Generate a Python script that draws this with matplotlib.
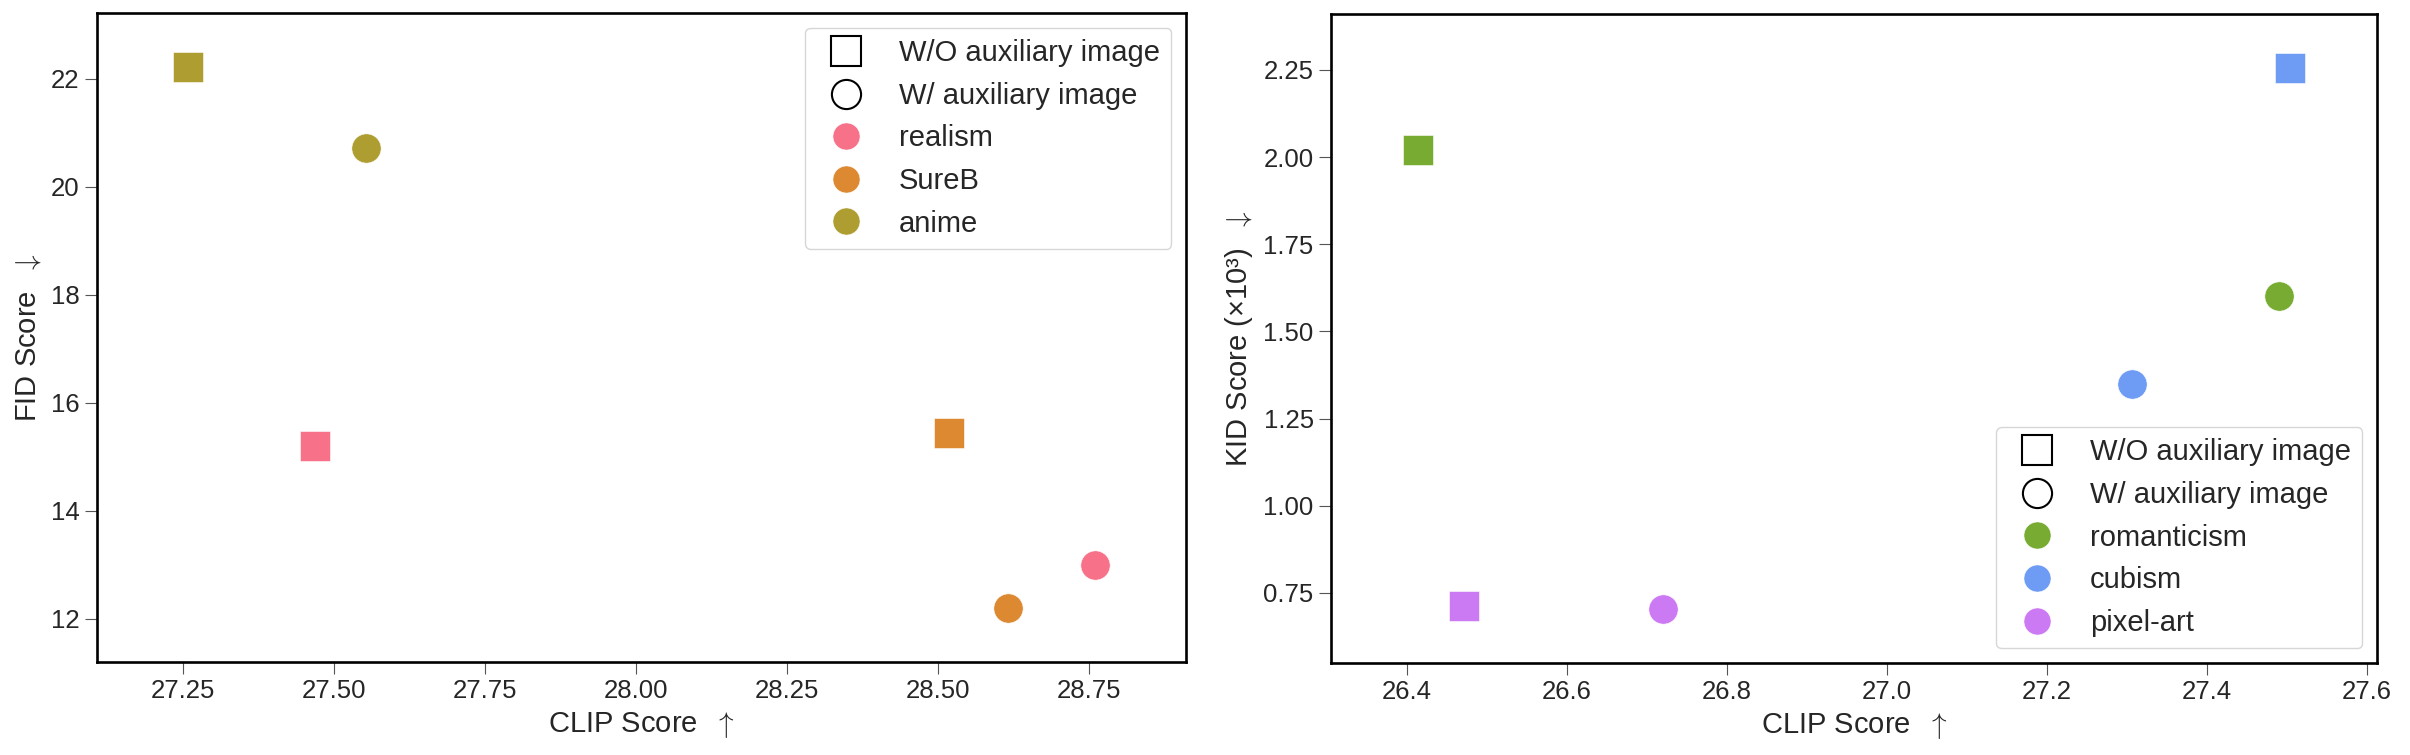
import matplotlib
matplotlib.use('Agg')
import matplotlib.pyplot as plt
from matplotlib.lines import Line2D

# Data: left panel (FID vs CLIP)
left_styles = ['realism', 'SureB', 'anime']
left_colors = ['#f77189', '#dc8932', '#ae9d31']
left_wo_clip = [27.469, 28.518, 27.258]
left_wo_fid = [15.20, 15.44, 22.22]
left_w_clip = [28.760, 28.616, 27.553]
left_w_fid = [13.00, 12.20, 20.72]

# Data: right panel (KID vs CLIP)
right_styles = ['romanticism', 'cubism', 'pixel-art']
right_colors = ['#77ab31', '#6e9bf4', '#cc7af4']
right_wo_clip = [26.414, 27.504, 26.471]
right_wo_kid = [2.020, 2.255, 0.713]
right_w_clip = [27.491, 27.307, 26.720]
right_w_kid = [1.601, 1.349, 0.704]

plt.rcParams['font.family'] = ['Liberation Sans', 'DejaVu Sans']
plt.rcParams['font.size'] = 21
plt.rcParams['text.color'] = '#262626'
plt.rcParams['axes.labelcolor'] = '#262626'
plt.rcParams['xtick.color'] = '#262626'
plt.rcParams['ytick.color'] = '#262626'

fig = plt.figure(figsize=(24.1, 7.55), dpi=100)
ax1 = fig.add_axes([97 / 2410, 93 / 755, 1089 / 2410, 649 / 755])
ax2 = fig.add_axes([1331 / 2410, 92 / 755, 1046 / 2410, 649 / 755])

marker_s = 445


def draw_panel(ax, styles, colors, wo_x, wo_y, w_x, w_y, ylabel, legend_loc):
    for i in range(len(styles)):
        ax.scatter(wo_x[i], wo_y[i], marker='s', s=marker_s, color=colors[i],
                   edgecolors='white', linewidths=0.4, zorder=3)
        ax.scatter(w_x[i], w_y[i], marker='o', s=marker_s, color=colors[i],
                   edgecolors='white', linewidths=0.4, zorder=3)
    ax.margins(0.1)
    for sp in ax.spines.values():
        sp.set_linewidth(1.9)
        sp.set_color('black')
    ax.tick_params(length=8.5, width=0.8, pad=4, labelsize=18.5, color='#555555')
    ax.set_xlabel(r'CLIP Score  $\uparrow$', labelpad=5, math_fontfamily='cm')
    ax.set_ylabel(ylabel, labelpad=6, math_fontfamily='cm')

    handles = [
        Line2D([], [], marker='s', linestyle='none', markersize=21,
               markerfacecolor='none', markeredgecolor='black', markeredgewidth=1.5),
        Line2D([], [], marker='o', linestyle='none', markersize=21,
               markerfacecolor='none', markeredgecolor='black', markeredgewidth=1.5),
    ]
    labels = ['W/O auxiliary image', 'W/ auxiliary image']
    for c, name in zip(colors, styles):
        handles.append(Line2D([], [], marker='o', linestyle='none', markersize=19.5,
                              markerfacecolor=c, markeredgecolor='white',
                              markeredgewidth=0.4))
        labels.append(name)
    ax.legend(handles, labels, loc=legend_loc, fontsize=21, borderaxespad=0.5)


draw_panel(ax1, left_styles, left_colors, left_wo_clip, left_wo_fid,
           left_w_clip, left_w_fid, r'FID Score  $\downarrow$', 'upper right')
draw_panel(ax2, right_styles, right_colors, right_wo_clip, right_wo_kid,
           right_w_clip, right_w_kid, 'KID Score (\u00d710\u00b3)  $\\downarrow$',
           'lower right')

ax1.set_xticks([27.25, 27.50, 27.75, 28.00, 28.25, 28.50, 28.75])
ax1.set_xticklabels(['27.25', '27.50', '27.75', '28.00', '28.25', '28.50', '28.75'])
ax1.set_yticks([12, 14, 16, 18, 20, 22])
ax2.set_xticks([26.4, 26.6, 26.8, 27.0, 27.2, 27.4, 27.6])
ax2.set_yticks([0.75, 1.00, 1.25, 1.50, 1.75, 2.00, 2.25])
ax2.set_yticklabels(['0.75', '1.00', '1.25', '1.50', '1.75', '2.00', '2.25'])

fig.savefig('out.png', dpi=100)
